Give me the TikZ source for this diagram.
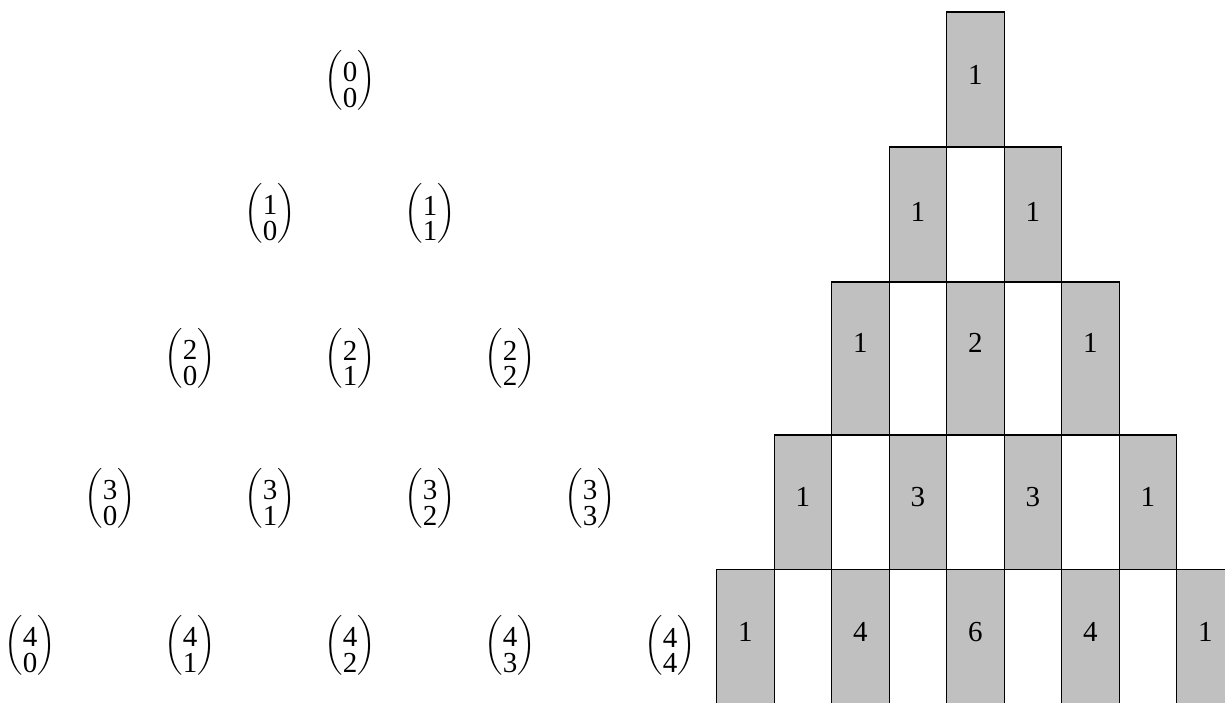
\documentclass[tikz,border=0pt]{standalone}
\usepackage{fix-cm}
\usepackage{amsmath}
\usepackage{fontspec}
\setmainfont{Liberation Serif}
\newfontfamily\numfont{Liberation Serif}
\definecolor{cellgray}{HTML}{C0C0C0}
\newcommand\mybinom[2]{$\left(\vcenter{\hbox{\rule{0pt}{50pt}}}\raisebox{-5pt}{$\vcenter{\hbox{\shortstack{#1\\[3pt]#2}}}$}\right)$}
\begin{document}
\begin{tikzpicture}[x=1pt,y=-1pt,
  cell/.style={draw=black, fill=cellgray, line width=1.1pt, inner sep=0pt, minimum width=57.5pt},
  num/.style={font=\numfont\fontsize{29}{34}\selectfont, inner sep=0pt},
  binomnode/.style={font=\numfont\fontsize{29}{34}\selectfont, inner sep=0pt}]
\useasboundingbox (0,0) rectangle (1225,702);
\clip (0,0) rectangle (1225,702);
\foreach \row/\ytop/\ybot/\ynum/\ybin in {0/12/147/75/80, 1/147/282/212/213, 2/282/435/343/358, 3/435/569.5/497/498, 4/569.5/712/632/645} {
  \foreach \kk in {0,...,\row} {
    \pgfmathsetmacro\ccol{4-\row+2*\kk}
    \pgfmathsetmacro\xcen{716.7+57.5*\ccol+28.75}
    \pgfmathsetmacro\ycen{(\ytop+\ybot)/2}
    \pgfmathsetmacro\hgt{\ybot-\ytop}
    \pgfmathtruncatemacro\val{factorial(\row)/(factorial(\kk)*factorial(\row-\kk))}
    \node[cell, minimum height=\hgt pt] (box-\row-\kk) at (\xcen,\ycen) {};
    \node[num] (n-\row-\kk) at (\xcen,\ynum) {\val};
    \node[binomnode] (b-\row-\kk) at ({350+(2*\kk-\row)*80},\ybin) {\mybinom{\row}{\kk}};
  }
}
\end{tikzpicture}
\end{document}
